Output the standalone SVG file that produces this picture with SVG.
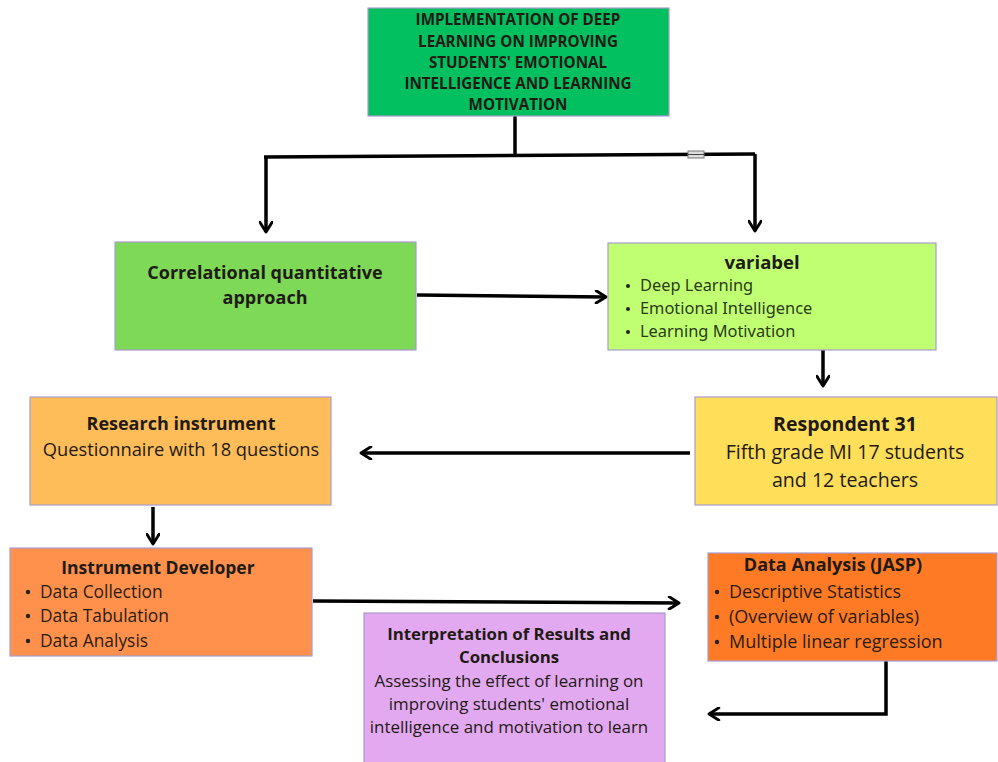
<svg xmlns="http://www.w3.org/2000/svg" width="998" height="762" viewBox="0 0 998 762">
<defs>
<marker id="ah" viewBox="0 0 12 12" refX="10" refY="6" markerWidth="4.2" markerHeight="4.2" orient="auto" markerUnits="strokeWidth">
<path d="M2,1 L10,6 L2,11" fill="none" stroke="#000" stroke-width="2.4" stroke-linecap="round" stroke-linejoin="round"/>
</marker>
<style>
.box{stroke:#a99ccf;stroke-width:1.2}
.t{font-family:"Open Sans","Noto Sans",sans-serif;fill:#1e1a14;text-anchor:middle}
.b{font-weight:bold}
.l{font-family:"Open Sans","Noto Sans",sans-serif;fill:#2a1c10}
.v{font-family:"Noto Sans","Open Sans",sans-serif;fill:#2a3a1a;font-size:16.4px}
.c{fill:none;stroke:#000;stroke-width:3.5;stroke-linejoin:miter}
</style>
</defs>
<rect width="998" height="762" fill="#fff"/>

<g id="connectors">
<path class="c" d="M515,116 V156"/>
<path class="c" d="M264,157 L755,154"/>
<path class="c" d="M266,157 V232" marker-end="url(#ah)"/>
<path class="c" d="M755,154 V231" marker-end="url(#ah)"/>
<rect x="688" y="151" width="16" height="7" fill="#ddd" stroke="#777" stroke-width="1"/>
<line x1="688" y1="154.5" x2="704" y2="154.5" stroke="#444" stroke-width="1"/>
<path class="c" d="M417,295 L606,297" marker-end="url(#ah)"/>
<path class="c" d="M823,350 V386" marker-end="url(#ah)"/>
<path class="c" d="M690,453 H361" marker-end="url(#ah)"/>
<path class="c" d="M153,507 V544" marker-end="url(#ah)"/>
<path class="c" d="M313,601 L679,603" marker-end="url(#ah)"/>
<path class="c" d="M886,661 V714 H709" marker-end="url(#ah)"/>
</g>

<g id="title">
<rect class="box" x="368" y="8" width="301" height="108" fill="#02bf60"/>
<text class="t b" font-size="15.2" x="518" y="25">IMPLEMENTATION OF DEEP</text>
<text class="t b" font-size="15.2" x="518" y="47">LEARNING ON IMPROVING</text>
<text class="t b" font-size="15.2" x="518" y="68">STUDENTS' EMOTIONAL</text>
<text class="t b" font-size="15.2" x="518" y="89">INTELLIGENCE AND LEARNING</text>
<text class="t b" font-size="15.2" x="518" y="110">MOTIVATION</text>
</g>

<g id="approach">
<rect class="box" x="115" y="242" width="301" height="108" fill="#7ed957"/>
<text class="t b" font-size="18" x="265" y="279">Correlational quantitative</text>
<text class="t b" font-size="18" x="265" y="304">approach</text>
</g>

<g id="variabel">
<rect class="box" x="608" y="243" width="328" height="107" fill="#c1ff72"/>
<text class="t b" font-size="18.5" x="762" y="269" font-family="Noto Sans,sans-serif">variabel</text>
<circle cx="628" cy="286" r="2" fill="#222"/>
<circle cx="628" cy="309" r="2" fill="#222"/>
<circle cx="628" cy="332" r="2" fill="#222"/>
<text class="v" x="640" y="291">Deep Learning</text>
<text class="v" x="640" y="314">Emotional Intelligence</text>
<text class="v" x="640" y="337">Learning Motivation</text>
</g>

<g id="respondent">
<rect class="box" x="695" y="397" width="302" height="108" fill="#ffde59"/>
<text class="t b" font-size="19.5" x="845" y="431">Respondent 31</text>
<text class="t" font-size="19.6" x="845" y="459">Fifth grade MI 17 students</text>
<text class="t" font-size="19.6" x="845" y="487">and 12 teachers</text>
</g>

<g id="instrument">
<rect class="box" x="30" y="397" width="301" height="108" fill="#ffbd59"/>
<text class="t b" font-size="18" x="181" y="430">Research instrument</text>
<text class="t" font-size="18.3" x="181" y="456">Questionnaire with 18 questions</text>
</g>

<g id="developer">
<rect class="box" x="10" y="548" width="302" height="108" fill="#ff914d"/>
<text class="t b" font-size="17.5" x="158" y="574">Instrument Developer</text>
<circle cx="28" cy="592" r="2.2" fill="#222"/>
<circle cx="28" cy="616" r="2.2" fill="#222"/>
<circle cx="28" cy="641" r="2.2" fill="#222"/>
<text class="l" font-size="17.4" x="40" y="598">Data Collection</text>
<text class="l" font-size="17.4" x="40" y="622">Data Tabulation</text>
<text class="l" font-size="17.4" x="40" y="647">Data Analysis</text>
</g>

<g id="analysis">
<rect class="box" x="708" y="553" width="289" height="108" fill="#ff7a24"/>
<text class="t b" font-size="18" x="833" y="571">Data Analysis (JASP)</text>
<circle cx="717" cy="592" r="2.2" fill="#222"/>
<circle cx="717" cy="617" r="2.2" fill="#222"/>
<circle cx="717" cy="642" r="2.2" fill="#222"/>
<text class="l" font-size="18" x="729" y="598">Descriptive Statistics</text>
<text class="l" font-size="18" x="729" y="623">(Overview of variables)</text>
<text class="l" font-size="18" x="729" y="648">Multiple linear regression</text>
</g>

<g id="interpretation">
<rect class="box" x="364" y="613" width="301" height="152" fill="#e3a9f0"/>
<text class="t b" font-size="16.8" x="509" y="640">Interpretation of Results and</text>
<text class="t b" font-size="16.8" x="509" y="663">Conclusions</text>
<text class="t" font-size="16.9" x="509" y="687">Assessing the effect of learning on</text>
<text class="t" font-size="16.9" x="509" y="710">improving students' emotional</text>
<text class="t" font-size="16.9" x="509" y="733">intelligence and motivation to learn</text>
</g>
</svg>
